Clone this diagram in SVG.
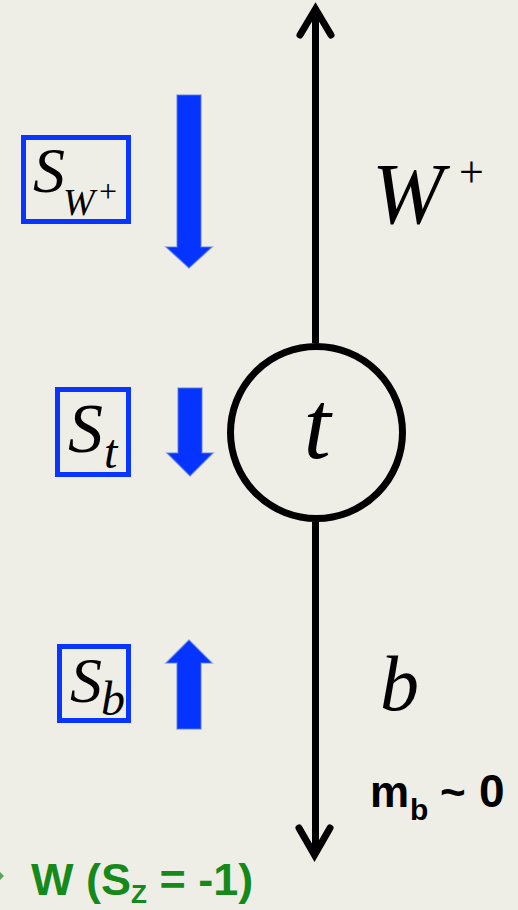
<svg xmlns="http://www.w3.org/2000/svg" width="518" height="910" viewBox="0 0 518 910">
<defs>
<style>
.bg{fill:#efeee6}
.box{fill:none;stroke:#0a35ff;stroke-width:5}
.barrow{fill:#0533ff;stroke:#5a7de0;stroke-width:1.5;stroke-opacity:0.6}
.ln{fill:none;stroke:#000;stroke-width:7}
.head{fill:none;stroke:#000;stroke-width:7;stroke-linecap:round;stroke-linejoin:miter}
.it{font-family:"Liberation Serif","Times New Roman",serif;font-style:italic;fill:#000}
.rm{font-family:"Liberation Serif","Times New Roman",serif;fill:#000}
.bold{font-family:"Liberation Sans",Arial,sans-serif;font-weight:bold;fill:#000}
.green{font-family:"Liberation Sans",Arial,sans-serif;font-weight:bold;fill:#15891a}
</style>
</defs>
<rect class="bg" x="0" y="0" width="518" height="910"/>

<g id="connectors">
<line class="ln" x1="315.5" y1="12" x2="315.5" y2="343"/>
<path class="head" d="M300,35 L315.5,9 L331,35"/>
<line class="ln" x1="315.5" y1="522" x2="315.5" y2="852"/>
<path class="head" d="M299,828 L314.5,855 L330,828"/>
</g>

<g id="top-quark">
<circle cx="316.5" cy="432.5" r="86" fill="none" stroke="#000" stroke-width="7"/>
<text class="it" x="317" y="458" font-size="98" text-anchor="middle">t</text>
</g>

<g id="W-label">
<text class="it" x="372" y="223" font-size="86">W</text>
<text class="rm" x="459" y="187" font-size="44">+</text>
</g>

<g id="b-label">
<text class="it" x="380" y="710" font-size="78">b</text>
</g>

<g id="mass-label">
<text class="bold" x="370" y="807" font-size="44">m</text>
<text class="bold" x="410" y="820" font-size="30">b</text>
<text class="bold" x="440" y="807" font-size="44">~</text>
<text class="bold" x="479" y="807" font-size="46">0</text>
</g>

<g id="spin-W">
<rect class="box" x="23.5" y="137.5" width="105" height="84"/>
<text class="it" x="33" y="192" font-size="64">S</text>
<text class="it" x="63" y="215" font-size="38">W</text>
<text class="rm" x="99" y="202" font-size="32">+</text>
<polygon class="barrow" points="177,95 201,95 201,247 212,247 189,268 166,247 177,247"/>
</g>

<g id="spin-t">
<rect class="box" x="57.5" y="389.5" width="71" height="85"/>
<text class="it" x="68" y="452" font-size="70">S</text>
<text class="it" x="104" y="468" font-size="48">t</text>
<polygon class="barrow" points="178,388 202,388 202,453 213,453 190,476 167,453 178,453"/>
</g>

<g id="spin-b">
<rect class="box" x="59.5" y="646.5" width="69" height="74"/>
<text class="it" x="70" y="702" font-size="64">S</text>
<text class="it" x="101" y="715" font-size="48">b</text>
<polygon class="barrow" points="189,640 212,663 201,663 201,729 177,729 177,663 166,663"/>
</g>

<g id="W-spin-label">
<path d="M0,872 L4,876 L0,880 Z" fill="#15891a" opacity="0.7"/>
<text class="green" x="31" y="895" font-size="45">W (S<tspan dy="8" font-size="26">Z</tspan><tspan dy="-8"> = -1)</tspan></text>
</g>
</svg>
